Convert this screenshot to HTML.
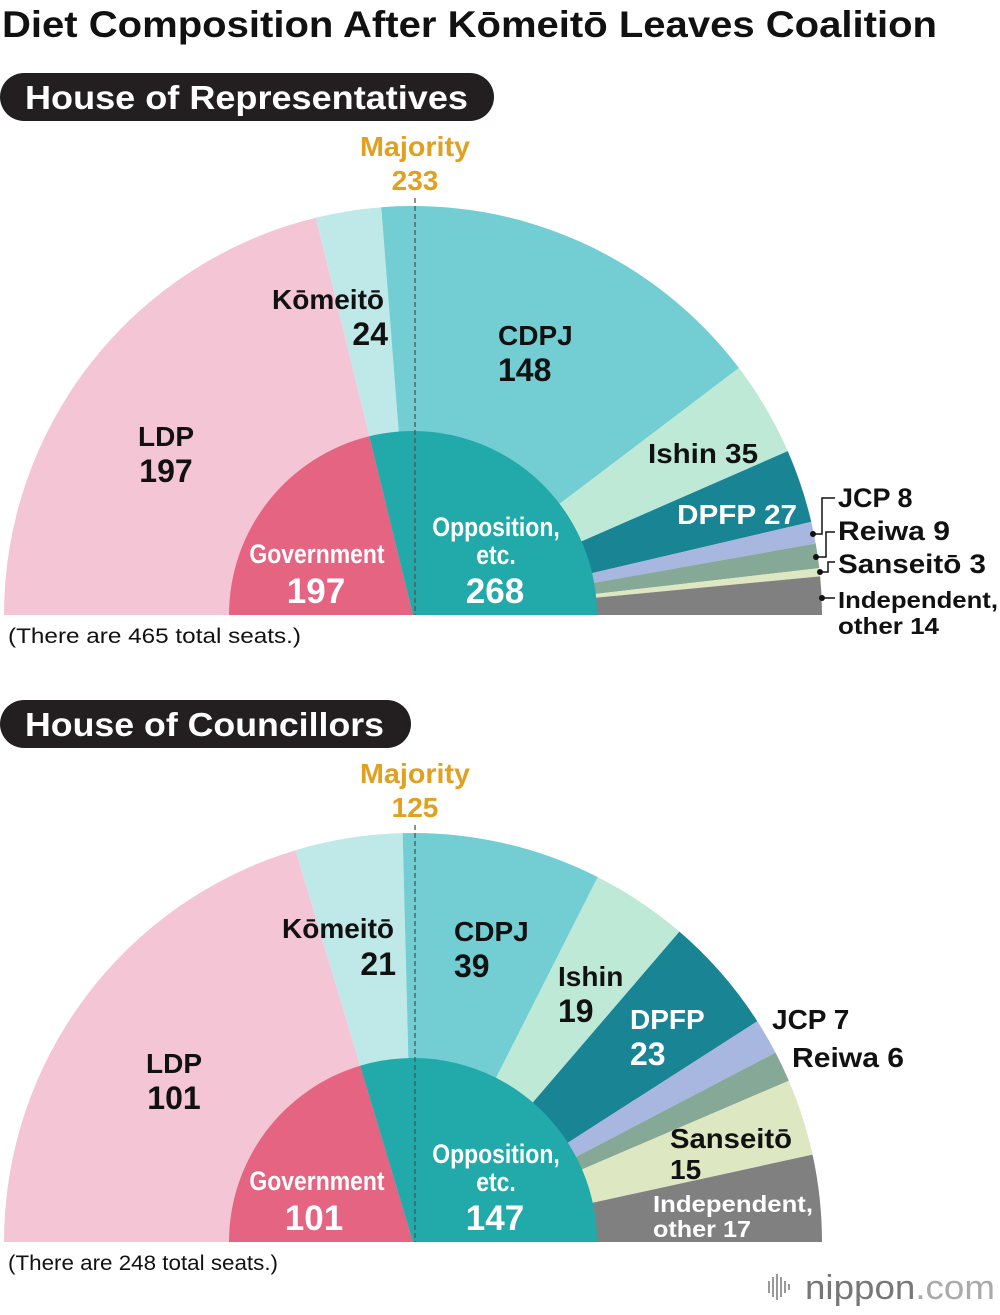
<!DOCTYPE html>
<html><head><meta charset="utf-8"><style>
body{margin:0;background:#fff;width:1000px;height:1310px;overflow:hidden;font-family:"Liberation Sans",Arial,sans-serif}
svg text{font-family:"Liberation Sans",Arial,sans-serif;font-weight:bold}
svg text.n{font-weight:normal}
</style></head><body>
<svg id="chart" width="1000" height="1310" viewBox="0 0 1000 1310" xmlns="http://www.w3.org/2000/svg">
<text x="2" y="37" font-size="37" fill="#111" textLength="935" lengthAdjust="spacingAndGlyphs">Diet Composition After Kōmeitō Leaves Coalition</text>
<g><rect x="0" y="73" width="494" height="48" rx="24" fill="#231f20"/><text x="25" y="109" font-size="33" fill="#fff" textLength="443" lengthAdjust="spacingAndGlyphs">House of Representatives</text></g>
<g><rect x="0" y="700" width="411" height="48" rx="24" fill="#231f20"/><text x="25" y="736" font-size="33" fill="#fff" textLength="359" lengthAdjust="spacingAndGlyphs">House of Councillors</text></g>
<g id="hr"></g><g id="hc"></g>
<g id="labels" font-size="28" fill="#111">
<text x="360" y="156" fill="#e0a020" style="font-weight:600" textLength="110" lengthAdjust="spacingAndGlyphs">Majority</text>
<text x="415" y="190" text-anchor="middle" fill="#e0a020" style="font-weight:600">233</text>
<text x="328" y="309" text-anchor="middle">Kōmeitō</text><text x="388" y="345" text-anchor="end" font-size="32">24</text>
<text x="166" y="446" text-anchor="middle">LDP</text><text x="166" y="482" text-anchor="middle" font-size="32">197</text>
<text x="498" y="345">CDPJ</text><text x="498" y="381" font-size="32">148</text>
<text x="648" y="463" textLength="110" lengthAdjust="spacingAndGlyphs">Ishin 35</text>
<text x="677" y="524" fill="#fff" textLength="120" lengthAdjust="spacingAndGlyphs">DPFP 27</text>
<text x="838" y="507" font-size="27">JCP 8</text>
<text x="838" y="540" font-size="27" textLength="112" lengthAdjust="spacingAndGlyphs">Reiwa 9</text>
<text x="838" y="573" font-size="27" textLength="148" lengthAdjust="spacingAndGlyphs">Sanseitō 3</text>
<text x="838" y="608" font-size="23" textLength="160" lengthAdjust="spacingAndGlyphs">Independent,</text>
<text x="838" y="634" font-size="23" textLength="101" lengthAdjust="spacingAndGlyphs">other 14</text>
<text x="317" y="563" text-anchor="middle" fill="#fff" font-size="27" transform="translate(317 0) scale(0.85 1) translate(-317 0)">Government</text>
<text x="316" y="603" text-anchor="middle" fill="#fff" font-size="35">197</text>
<text x="496" y="536" text-anchor="middle" fill="#fff" font-size="27" transform="translate(496 0) scale(0.85 1) translate(-496 0)">Opposition,</text>
<text x="496" y="564" text-anchor="middle" fill="#fff" font-size="27" transform="translate(496 0) scale(0.85 1) translate(-496 0)">etc.</text>
<text x="495" y="603" text-anchor="middle" fill="#fff" font-size="35">268</text>
<text class="n" x="8" y="643" font-size="21" textLength="293" lengthAdjust="spacingAndGlyphs">(There are 465 total seats.)</text>
<text x="360" y="783" fill="#e0a020" style="font-weight:600" textLength="110" lengthAdjust="spacingAndGlyphs">Majority</text>
<text x="415" y="817" text-anchor="middle" fill="#e0a020" style="font-weight:600">125</text>
<text x="338" y="938" text-anchor="middle">Kōmeitō</text><text x="396" y="975" text-anchor="end" font-size="32">21</text>
<text x="174" y="1073" text-anchor="middle">LDP</text><text x="174" y="1109" text-anchor="middle" font-size="32">101</text>
<text x="454" y="941">CDPJ</text><text x="454" y="977" font-size="32">39</text>
<text x="558" y="986">Ishin</text><text x="558" y="1022" font-size="32">19</text>
<text x="630" y="1029" fill="#fff">DPFP</text><text x="630" y="1065" fill="#fff" font-size="32">23</text>
<text x="772" y="1029">JCP 7</text>
<text x="792" y="1067" textLength="112" lengthAdjust="spacingAndGlyphs">Reiwa 6</text>
<text x="670" y="1148" textLength="122" lengthAdjust="spacingAndGlyphs">Sanseitō</text><text x="670" y="1179">15</text>
<text x="653" y="1212" fill="#fff" font-size="23" textLength="160" lengthAdjust="spacingAndGlyphs">Independent,</text>
<text x="653" y="1237" fill="#fff" font-size="23" textLength="98" lengthAdjust="spacingAndGlyphs">other 17</text>
<text x="317" y="1190" text-anchor="middle" fill="#fff" font-size="27" transform="translate(317 0) scale(0.85 1) translate(-317 0)">Government</text>
<text x="314" y="1230" text-anchor="middle" fill="#fff" font-size="35">101</text>
<text x="496" y="1163" text-anchor="middle" fill="#fff" font-size="27" transform="translate(496 0) scale(0.85 1) translate(-496 0)">Opposition,</text>
<text x="496" y="1191" text-anchor="middle" fill="#fff" font-size="27" transform="translate(496 0) scale(0.85 1) translate(-496 0)">etc.</text>
<text x="495" y="1230" text-anchor="middle" fill="#fff" font-size="35">147</text>
<text class="n" x="8" y="1270" font-size="21" textLength="270" lengthAdjust="spacingAndGlyphs">(There are 248 total seats.)</text>
<g>
<g fill="#999"><rect x="768" y="1281" width="2" height="12"/><rect x="772" y="1277" width="2" height="20"/><rect x="776" y="1274" width="2" height="26"/><rect x="780" y="1277" width="2" height="20"/><rect x="784" y="1281" width="2" height="12"/><rect x="788" y="1284" width="2" height="6"/></g>
<text class="n" x="805" y="1299" font-size="34" fill="#777" textLength="190" lengthAdjust="spacingAndGlyphs">nippon<tspan fill="#aaa">.com</tspan></text>
</g>
</g>
<g stroke="#111" stroke-width="1.5" fill="none">
<path d="M813 534 H822 V498 H835"/><path d="M816 557 H826 V532 H835"/><path d="M820 572 H828 V562 H835"/><path d="M822 598 H835"/>
</g>
<g fill="#111"><circle cx="813" cy="534" r="3"/><circle cx="816" cy="557" r="3"/><circle cx="820" cy="572" r="3"/><circle cx="822" cy="598" r="3"/></g>
</svg>
<script>
const hrParties=["LDP","Komeito","CDPJ","Ishin","DPFP","JCP","Reiwa","Sanseito","Independent"];
const hrSeats=[197,24,148,35,27,8,9,3,14];
const hcParties=["LDP","Komeito","CDPJ","Ishin","DPFP","JCP","Reiwa","Sanseito","Independent"];
const hcSeats=[101,21,39,19,23,7,6,15,17];
const blocs=["Government","Opposition"];
const hrBlocSeats=[197,268];
const hcBlocSeats=[101,147];
const hrMajority=233;
const hcMajority=125;
const partyColors=["#f3c5d5","#bfe8e8","#72ced3","#bde9d6","#188494","#a7b7df","#86a896","#dde8c3","#808080"];
const blocColors=["#e56481","#22a9aa"];
const NS="http://www.w3.org/2000/svg";
function draw(gid,cy,parties,seats,bSeats,majority,prefix){
  const g=document.getElementById(gid);
  const cx=413,R=409,r=184;
  const total=seats.reduce((a,b)=>a+b,0);
  const ang=v=>Math.PI*(1-v/total);
  const pt=(a,rad)=>[cx+rad*Math.cos(a),cy-rad*Math.sin(a)];
  function wedge(a0,a1,rad,col,name){
    const p0=pt(a0,rad),p1=pt(a1,rad);
    const p=document.createElementNS(NS,"path");
    p.setAttribute("d",`M${cx},${cy} L${p0[0]},${p0[1]} A${rad},${rad} 0 0 1 ${p1[0]},${p1[1]} Z`);
    p.setAttribute("fill",col);
    
    
    g.appendChild(p);
  }
  let c=0;
  seats.forEach((s,i)=>{wedge(ang(c),ang(c+s),R,partyColors[i],prefix+"-wedge-"+parties[i].toLowerCase());c+=s;});
  c=0;
  bSeats.forEach((s,i)=>{wedge(ang(c),ang(c+s),r,blocColors[i],prefix+"-bloc-"+blocs[i].toLowerCase());c+=s;});
  const l=document.createElementNS(NS,"line");
  l.setAttribute("x1",cx+2);l.setAttribute("x2",cx+2);
  l.setAttribute("y1",cy-R-8);l.setAttribute("y2",cy);
  l.setAttribute("stroke","#555");l.setAttribute("stroke-width","1.3");l.setAttribute("stroke-dasharray","5,3");
  
  
  g.appendChild(l);
}
draw("hr",615,hrParties,hrSeats,hrBlocSeats,hrMajority,"representatives");
draw("hc",1242,hcParties,hcSeats,hcBlocSeats,hcMajority,"councillors");
</script>
</body></html>
